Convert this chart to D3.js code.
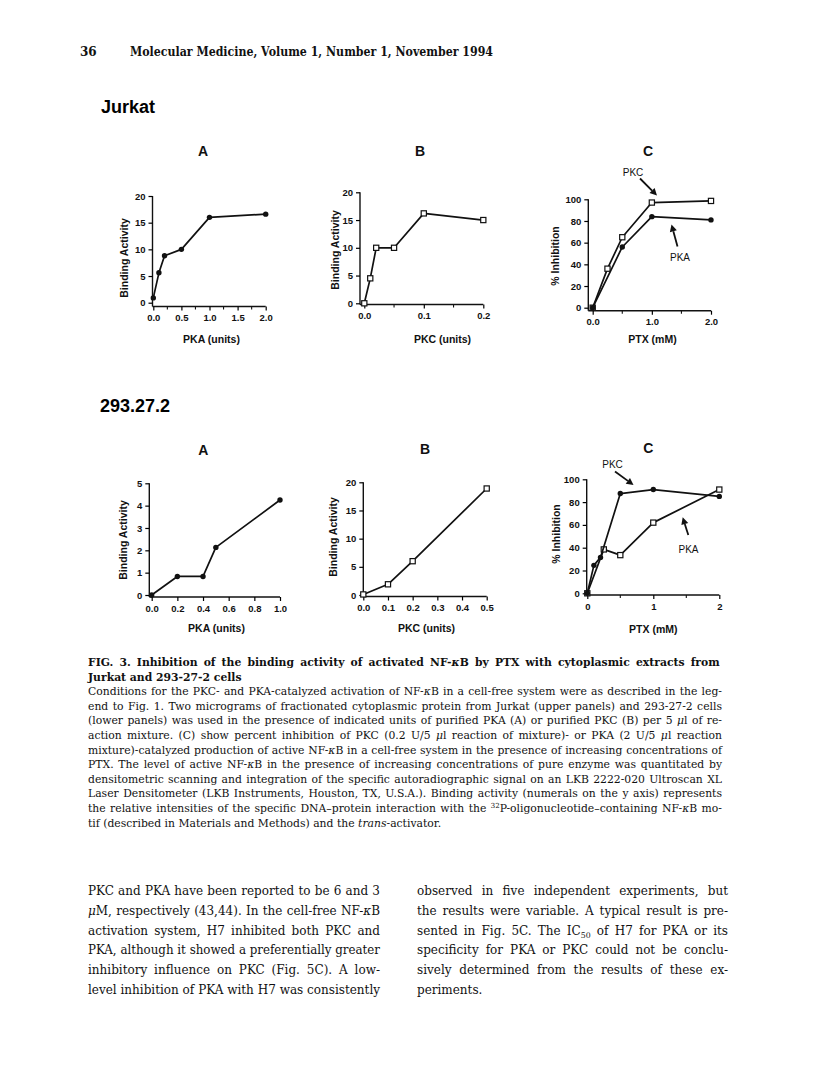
<!DOCTYPE html>
<html>
<head>
<meta charset="utf-8">
<script src="https://cdn.jsdelivr.net/npm/d3@7"></script>
<style>
  body { margin: 0; background: #fff; }
  svg { display: block; }
  .panel text { font-family: "Liberation Sans", Arial, sans-serif; font-weight: bold; fill: #111; }
  .page text { font-family: "DejaVu Serif", "Liberation Serif", serif; fill: #111; }
</style>
</head>
<body>
<svg width="816" height="1088"></svg>
<script>
// ---- data ----
// Jurkat A: binding activity vs PKA units
var jurkatA_units = [0, 0.1, 0.2, 0.5, 1.0, 2.0];
var jurkatA_binding = [0.9, 5.6, 8.8, 10, 16, 16.6];
// Jurkat B: binding activity vs PKC units
var jurkatB_units = [0, 0.01, 0.02, 0.05, 0.1, 0.2];
var jurkatB_binding = [0, 4.5, 10, 10, 16.2, 15];
// Jurkat C: % inhibition vs PTX (mM)
var jurkatC_pkc_ptx = [0, 0.25, 0.5, 1, 2];
var jurkatC_pkc_inhib = [0, 36, 65, 97, 98.5];
var jurkatC_pka_ptx = [0, 0.5, 1, 2];
var jurkatC_pka_inhib = [0, 56, 84, 81];
// 293.27.2 A
var cellA_units = [0, 0.2, 0.4, 0.5, 1.0];
var cellA_binding = [0, 0.83, 0.83, 2.13, 4.25];
// 293.27.2 B
var cellB_units = [0, 0.1, 0.2, 0.5];
var cellB_binding = [0.1, 1.9, 6.0, 18.9];
// 293.27.2 C
var cellC_pkc_ptx = [0, 0.1, 0.2, 0.5, 1, 2];
var cellC_pkc_inhib = [0, 24.5, 31.5, 87.5, 91, 85];
var cellC_pka_ptx = [0, 0.25, 0.5, 1, 2];
var cellC_pka_inhib = [0, 38.5, 33.5, 62, 91];

// tick values
var ticksPKA2 = [0, 0.5, 1, 1.5, 2];
var minorPKA2 = [0.25, 0.75, 1.25, 1.75];
var ticksPKC02 = [0, 0.1, 0.2];
var minorPKC02 = [0.05, 0.15];
var ticksPTX = [0, 1, 2];
var minorPTX = [0.5, 1.5];
var ticksPKA1 = [0, 0.2, 0.4, 0.6, 0.8, 1.0];
var ticksPKC05 = [0, 0.1, 0.2, 0.3, 0.4, 0.5];
var ticksBind20 = [0, 5, 10, 15, 20];
var ticksBind5 = [0, 1, 2, 3, 4, 5];
var ticksPct = [0, 20, 40, 60, 80, 100];

var svg = d3.select("svg");

function zip(xs, ys) {
    return xs.map(function(x, i) { return [x, ys[i]]; });
}

/**
 * Draws one small line plot panel.
 */
function drawPanel(p) {
    var g = svg.append("g").classed("panel", true);
    var x = d3.scaleLinear().domain(p.xDomain).range(p.xRange);
    var y = d3.scaleLinear().domain(p.yDomain).range(p.yRange);
    var axX = p.yAxisAt, axY = p.xAxisAt;

    // axis lines
    g.append("line")
        .attr("x1", axX).attr("x2", axX)
        .attr("y1", y(p.yDomain[1])).attr("y2", axY)
        .attr("stroke", "#111").attr("stroke-width", 1.4);
    g.append("line")
        .attr("x1", axX).attr("x2", x(p.xDomain[1]))
        .attr("y1", axY).attr("y2", axY)
        .attr("stroke", "#111").attr("stroke-width", 1.4);

    var xa = g.append("g").attr("transform", "translate(0," + axY + ")")
        .call(d3.axisBottom(x).tickValues(p.xTicks).tickFormat(p.xFormat).tickSize(4).tickPadding(4));
    xa.select(".domain").remove();
    xa.selectAll("line").attr("stroke-width", 1.2);
    xa.selectAll("text").style("font-size", "9.5px").attr("fill", "#111");
    if (p.xMinor) {
        g.selectAll(null).data(p.xMinor).enter().append("line")
            .attr("x1", function(d) { return x(d); }).attr("x2", function(d) { return x(d); })
            .attr("y1", axY).attr("y2", axY + 3)
            .attr("stroke", "#111").attr("stroke-width", 1.1);
    }

    var ya = g.append("g").attr("transform", "translate(" + axX + ",0)")
        .call(d3.axisLeft(y).tickValues(p.yTicks).tickFormat(d3.format("d")).tickSize(4).tickPadding(3));
    ya.select(".domain").remove();
    ya.selectAll("line").attr("stroke-width", 1.2);
    ya.selectAll("text").style("font-size", "9.5px").attr("fill", "#111");

    // titles
    g.append("text").attr("x", p.title[1]).attr("y", p.title[2])
        .attr("text-anchor", "middle").style("font-size", "14px").text(p.title[0]);
    g.append("text").attr("x", p.xLabel[1]).attr("y", p.xLabel[2])
        .attr("text-anchor", "middle").style("font-size", "10.5px").text(p.xLabel[0]);
    g.append("text")
        .attr("transform", "translate(" + p.yLabel[1] + "," + p.yLabel[2] + ") rotate(-90)")
        .attr("text-anchor", "middle").style("font-size", "10.5px").text(p.yLabel[0]);

    var line = d3.line().x(function(d) { return x(d[0]); }).y(function(d) { return y(d[1]); });
    p.series.forEach(function(s) {
        var pts = zip(s.x, s.y);
        g.append("path").datum(pts).attr("d", line)
            .attr("fill", "none").attr("stroke", "#111").attr("stroke-width", 1.7)
            .attr("stroke-linejoin", "round");
        if (s.marker === "circle") {
            g.selectAll(null).data(pts).enter().append("circle")
                .attr("cx", function(d) { return x(d[0]); })
                .attr("cy", function(d) { return y(d[1]); })
                .attr("r", 2.7).attr("fill", "#111");
        } else {
            g.selectAll(null).data(pts).enter().append("rect")
                .attr("x", function(d) { return x(d[0]) - 2.6; })
                .attr("y", function(d) { return y(d[1]) - 2.6; })
                .attr("width", 5.2).attr("height", 5.2)
                .attr("fill", "#fff").attr("stroke", "#111").attr("stroke-width", 1.2);
        }
    });

    (p.notes || []).forEach(function(n) {
        g.append("text").attr("x", n.tx).attr("y", n.ty)
            .attr("text-anchor", "middle").style("font-size", "10px").style("font-weight", "normal").text(n.text);
        drawArrow(g, n.a[0], n.a[1], n.a[2], n.a[3]);
    });
}

function drawArrow(g, x1, y1, x2, y2) {
    var ang = Math.atan2(y2 - y1, x2 - x1);
    var len = 7, wid = 3.6;
    var bx = x2 - len * Math.cos(ang), by = y2 - len * Math.sin(ang);
    g.append("line").attr("x1", x1).attr("y1", y1).attr("x2", bx).attr("y2", by)
        .attr("stroke", "#111").attr("stroke-width", 1.8);
    var px = -Math.sin(ang) * wid, py = Math.cos(ang) * wid;
    g.append("path")
        .attr("d", "M" + x2 + "," + y2 + "L" + (bx + px) + "," + (by + py) + "L" + (bx - px) + "," + (by - py) + "Z")
        .attr("fill", "#111");
}

var f1 = d3.format(".1f"), fInt = d3.format("d");

drawPanel({
    xDomain: [0, 2], xRange: [153.3, 265.7], yDomain: [0, 20], yRange: [302.7, 196],
    yAxisAt: 152.5, xAxisAt: 306.5,
    xTicks: ticksPKA2, xMinor: minorPKA2, xFormat: f1, yTicks: ticksBind20,
    title: ["A", 203, 156], xLabel: ["PKA (units)", 211.5, 343], yLabel: ["Binding Activity", 127.5, 258],
    series: [{ x: jurkatA_units, y: jurkatA_binding, marker: "circle" }]
});
drawPanel({
    xDomain: [0, 0.2], xRange: [364.3, 483.3], yDomain: [0, 20], yRange: [303.3, 192.3],
    yAxisAt: 360, xAxisAt: 304.5,
    xTicks: ticksPKC02, xMinor: minorPKC02, xFormat: f1, yTicks: ticksBind20,
    title: ["B", 420, 156], xLabel: ["PKC (units)", 442.5, 343], yLabel: ["Binding Activity", 338.5, 250],
    series: [{ x: jurkatB_units, y: jurkatB_binding, marker: "square" }]
});
drawPanel({
    xDomain: [0, 2], xRange: [592.7, 711], yDomain: [0, 100], yRange: [307.7, 199.3],
    yAxisAt: 588.3, xAxisAt: 310.7,
    xTicks: ticksPTX, xMinor: minorPTX, xFormat: f1, yTicks: ticksPct,
    title: ["C", 648, 156], xLabel: ["PTX (mM)", 652.5, 343], yLabel: ["% Inhibition", 558.5, 256],
    series: [
        { x: jurkatC_pkc_ptx, y: jurkatC_pkc_inhib, marker: "square" },
        { x: jurkatC_pka_ptx, y: jurkatC_pka_inhib, marker: "circle" }
    ],
    notes: [
        { text: "PKC", tx: 633, ty: 176, a: [640, 178.5, 657, 195.5] },
        { text: "PKA", tx: 680, ty: 261, a: [677.5, 246.5, 671.5, 224.5] }
    ]
});
drawPanel({
    xDomain: [0, 1], xRange: [151.7, 280], yDomain: [0, 5], yRange: [595, 483.3],
    yAxisAt: 149.3, xAxisAt: 597,
    xTicks: ticksPKA1, xFormat: f1, yTicks: ticksBind5,
    title: ["A", 203.3, 455], xLabel: ["PKA (units)", 216.5, 632], yLabel: ["Binding Activity", 127, 540],
    series: [{ x: cellA_units, y: cellA_binding, marker: "circle" }]
});
drawPanel({
    xDomain: [0, 0.5], xRange: [363.3, 486.7], yDomain: [0, 20], yRange: [595, 482.3],
    yAxisAt: 363.3, xAxisAt: 596.5,
    xTicks: ticksPKC05, xFormat: f1, yTicks: ticksBind20,
    title: ["B", 425, 454], xLabel: ["PKC (units)", 426.5, 632], yLabel: ["Binding Activity", 336.5, 537],
    series: [{ x: cellB_units, y: cellB_binding, marker: "square" }]
});
drawPanel({
    xDomain: [0, 2], xRange: [587.3, 719.3], yDomain: [0, 100], yRange: [593.3, 479.3],
    yAxisAt: 586.7, xAxisAt: 595,
    xTicks: ticksPTX, xMinor: minorPTX, xFormat: fInt, yTicks: ticksPct,
    title: ["C", 648.3, 453], xLabel: ["PTX (mM)", 653.3, 633], yLabel: ["% Inhibition", 560, 534],
    series: [
        { x: cellC_pka_ptx, y: cellC_pka_inhib, marker: "square" },
        { x: cellC_pkc_ptx, y: cellC_pkc_inhib, marker: "circle" }
    ],
    notes: [
        { text: "PKC", tx: 612.5, ty: 468, a: [615, 471.5, 633.5, 485] },
        { text: "PKA", tx: 688.5, ty: 553, a: [688.3, 535, 682.7, 517.3] }
    ]
});

// ---- page text ----
var page = svg.append("g").classed("page", true);
page.append("text").attr("x", 80).attr("y", 56).style("font-size", "12px").style("font-weight", "bold").text("36");
page.append("text").attr("x", 130).attr("y", 56).style("font-size", "12px").style("font-weight", "bold")
    .attr("textLength", 363).attr("lengthAdjust", "spacingAndGlyphs")
    .text("Molecular Medicine, Volume 1, Number 1, November 1994");

svg.append("text").attr("x", 101).attr("y", 113)
    .style("font-family", "Liberation Sans, Arial, sans-serif").style("font-weight", "bold").style("font-size", "18px")
    .text("Jurkat");
svg.append("text").attr("x", 100).attr("y", 412)
    .style("font-family", "Liberation Sans, Arial, sans-serif").style("font-weight", "bold").style("font-size", "18px")
    .text("293.27.2");

// each line: runs of [text, style]; just = justify to the column width
var captionLines = [
    { bold: true, just: true, runs: [["FIG. 3.  Inhibition of the binding activity of activated NF-"], ["κ", "i"], ["B by PTX with cytoplasmic extracts from"]] },
    { bold: true, just: false, runs: [["Jurkat and 293-27-2 cells"]] },
    { just: true, runs: [["Conditions for the PKC- and PKA-catalyzed activation of NF-"], ["κ", "i"], ["B in a cell-free system were as described in the leg-"]] },
    { just: true, runs: [["end to Fig. 1. Two micrograms of fractionated cytoplasmic protein from Jurkat (upper panels) and 293-27-2 cells"]] },
    { just: true, runs: [["(lower panels) was used in the presence of indicated units of purified PKA (A) or purified PKC (B) per 5 "], ["μ", "i"], ["l of re-"]] },
    { just: true, runs: [["action mixture. (C) show percent inhibition of PKC (0.2 U/5 "], ["μ", "i"], ["l reaction of mixture)- or PKA (2 U/5 "], ["μ", "i"], ["l reaction"]] },
    { just: true, runs: [["mixture)-catalyzed production of active NF-"], ["κ", "i"], ["B in a cell-free system in the presence of increasing concentrations of"]] },
    { just: true, runs: [["PTX. The level of active NF-"], ["κ", "i"], ["B in the presence of increasing concentrations of pure enzyme was quantitated by"]] },
    { just: true, runs: [["densitometric scanning and integration of the specific autoradiographic signal on an LKB 2222-020 Ultroscan XL"]] },
    { just: true, runs: [["Laser Densitometer (LKB Instruments, Houston, TX, U.S.A.). Binding activity (numerals on the y axis) represents"]] },
    { just: true, runs: [["the relative intensities of the specific DNA–protein interaction with the "], ["32", "sup"], ["P-oligonucleotide–containing NF-"], ["κ", "i"], ["B mo-"]] },
    { just: false, runs: [["tif (described in Materials and Methods) and the "], ["trans", "i"], ["-activator."]] }
];

var leftCol = [
    { just: true, runs: [["PKC and PKA have been reported to be 6 and 3"]] },
    { just: true, runs: [["μ", "i"], ["M, respectively (43,44). In the cell-free NF-"], ["κ", "i"], ["B"]] },
    { just: true, runs: [["activation system, H7 inhibited both PKC and"]] },
    { just: true, runs: [["PKA, although it showed a preferentially greater"]] },
    { just: true, runs: [["inhibitory influence on PKC (Fig. 5C). A low-"]] },
    { just: true, runs: [["level inhibition of PKA with H7 was consistently"]] }
];
var rightCol = [
    { just: true, runs: [["observed in five independent experiments, but"]] },
    { just: true, runs: [["the results were variable. A typical result is pre-"]] },
    { just: true, runs: [["sented in Fig. 5C. The IC"], ["50", "sub"], [" of H7 for PKA or its"]] },
    { just: true, runs: [["specificity for PKA or PKC could not be conclu-"]] },
    { just: true, runs: [["sively determined from the results of these ex-"]] },
    { just: false, runs: [["periments."]] }
];

function writeLines(lines, x0, width, y0, dy, size) {
    lines.forEach(function(l, i) {
        var t = page.append("text").attr("x", x0).attr("y", y0 + i * dy)
            .style("font-size", size + "px").style("font-weight", l.bold ? "bold" : "normal");
        var shift = 0;
        l.runs.forEach(function(r) {
            var s = t.append("tspan").text(r[0]);
            var want = 0;
            if (r[1] === "i") s.style("font-style", "italic");
            if (r[1] === "sup") { s.style("font-size", (size * 0.65) + "px"); want = -4.5; }
            if (r[1] === "sub") { s.style("font-size", (size * 0.65) + "px"); want = 3; }
            if (want - shift !== 0) s.attr("dy", want - shift);
            shift = want;
        });
        var full = l.runs.map(function(r) { return r[0]; }).join("");
        var natural = t.node().getComputedTextLength();
        if (l.just) {
            var spaces = (full.match(/ /g) || []).length;
            if (natural <= width && spaces > 0) {
                t.style("word-spacing", ((width - natural) / spaces) + "px");
            } else {
                t.attr("textLength", width).attr("lengthAdjust", "spacingAndGlyphs");
            }
        } else if (natural > width) {
            t.attr("textLength", width).attr("lengthAdjust", "spacingAndGlyphs");
        }
    });
}

writeLines(captionLines, 88, 634, 666, 14.6, 10.8);
writeLines(leftCol, 88, 292, 895, 19.8, 12);
writeLines(rightCol, 417, 311, 895, 19.8, 12);
</script>
</body>
</html>
